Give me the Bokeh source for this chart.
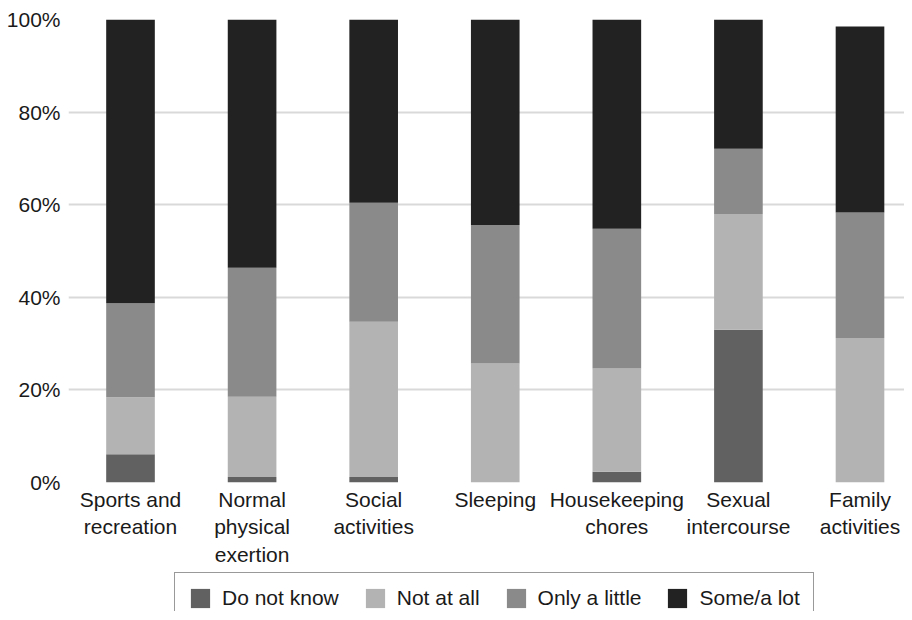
from bokeh.plotting import figure
from bokeh.layouts import column
from bokeh.models import FixedTicker, PrintfTickFormatter, Legend, LegendItem, ColumnDataSource
from bokeh.embed import file_html
from bokeh.resources import INLINE

categories = ["Sports and\nrecreation", "Normal\nphysical\nexertion", "Social\nactivities",
              "Sleeping", "Housekeeping\nchores", "Sexual\nintercourse", "Family\nactivities"]
do_not_know = [6.1, 1.2, 1.2, 0.0, 2.3, 33.0, 0.0]
not_at_all = [12.3, 17.3, 33.5, 25.7, 22.3, 25.0, 31.2]
only_a_little = [20.3, 27.9, 25.7, 29.9, 30.2, 14.1, 27.1]
some_a_lot = [61.3, 53.6, 39.6, 44.4, 45.2, 27.9, 40.2]
series_names = ["Do not know", "Not at all", "Only a little", "Some/a lot"]
colors = ["#616161", "#b3b3b3", "#8a8a8a", "#222222"]
y_ticks = [0, 20, 40, 60, 80, 100]

FONT = "Liberation Sans"

src = ColumnDataSource(dict(
    x=list(range(len(categories))),
    dnk=do_not_know, naa=not_at_all, oal=only_a_little, sal=some_a_lot,
))

p = figure(width=904, height=572, output_backend="svg", toolbar_location=None,
           x_range=(-0.510, 6.366), y_range=(0, 100),
           min_border_left=68, min_border_right=0, min_border_top=19, min_border_bottom=90)
p.outline_line_color = None

renderers = p.vbar_stack(["dnk", "naa", "oal", "sal"], x="x", width=0.4, source=src,
                         color=colors, line_color=None)

p.xgrid.visible = False
p.ygrid.grid_line_color = "#d9d9d9"
p.ygrid.grid_line_width = 2
p.ygrid.ticker = FixedTicker(ticks=y_ticks)

p.yaxis.ticker = FixedTicker(ticks=y_ticks)
p.yaxis.formatter = PrintfTickFormatter(format="%d%%")
p.xaxis.ticker = FixedTicker(ticks=list(range(len(categories))))
p.xaxis.major_label_overrides = {i: c for i, c in enumerate(categories)}

for ax in (p.xaxis[0], p.yaxis[0]):
    ax.axis_line_color = None
    ax.major_tick_line_color = None
    ax.minor_tick_line_color = None
    ax.major_tick_out = 0
    ax.major_tick_in = 0
    ax.minor_tick_out = 0
    ax.minor_tick_in = 0
    ax.major_label_text_font = FONT
    ax.major_label_text_font_size = "21px"
    ax.major_label_text_color = "#1a1a1a"
p.yaxis.major_label_standoff = 8
p.xaxis.major_label_standoff = 5

# Legend lives in a small strip figure below the chart
p2 = figure(width=904, height=39, output_backend="svg", toolbar_location=None,
            x_range=(0, 1), y_range=(0, 1), x_axis_type=None, y_axis_type=None,
            min_border=0)
p2.outline_line_color = None
p2.xgrid.visible = False
p2.ygrid.visible = False
items = []
for name, c in zip(series_names, colors):
    r = p2.vbar(x=[-1], top=[0], width=0.4, color=c, line_color=None)
    items.append(LegendItem(label=name, renderers=[r]))

legend = Legend(items=items, orientation="horizontal", location=(106, -13))
legend.label_text_font = FONT
legend.label_text_font_size = "21px"
legend.label_text_color = "#1a1a1a"
legend.glyph_width = 24
legend.glyph_height = 24
legend.label_standoff = 10
legend.spacing = 24
legend.padding = 13
legend.margin = 0
legend.border_line_color = "#333333"
legend.border_line_width = 1
p2.add_layout(legend, "center")

layout = column(p, p2, spacing=0)
open("out.html", "w").write(file_html(layout, INLINE))
